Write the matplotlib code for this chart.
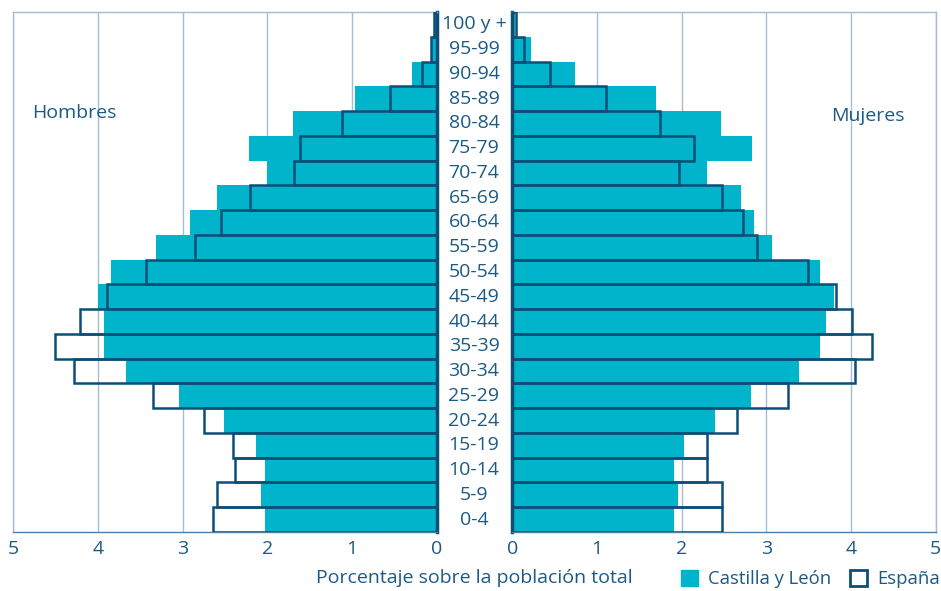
import matplotlib.pyplot as plt
import matplotlib.transforms as mtransforms
from matplotlib.patches import Patch

plt.rcParams['font.family'] = ['Open Sans', 'DejaVu Sans']

# age groups from bottom to top
edades = ['0-4', '5-9', '10-14', '15-19', '20-24', '25-29', '30-34', '35-39',
          '40-44', '45-49', '50-54', '55-59', '60-64', '65-69', '70-74',
          '75-79', '80-84', '85-89', '90-94', '95-99', '100 y +']

# porcentaje sobre la poblacion total
hombres_cyl = [2.03, 2.07, 2.03, 2.13, 2.51, 3.04, 3.67, 3.93, 3.93, 4.00, 3.85,
               3.32, 2.91, 2.59, 2.00, 2.22, 1.70, 0.96, 0.29, 0.06, 0.02]
hombres_esp = [2.64, 2.60, 2.38, 2.41, 2.75, 3.35, 4.28, 4.51, 4.21, 3.89, 3.43,
               2.85, 2.55, 2.21, 1.69, 1.62, 1.12, 0.55, 0.17, 0.07, 0.03]
mujeres_cyl = [1.91, 1.96, 1.91, 2.03, 2.39, 2.82, 3.38, 3.63, 3.71, 3.80, 3.63,
               3.07, 2.85, 2.70, 2.30, 2.83, 2.46, 1.70, 0.74, 0.22, 0.03]
mujeres_esp = [2.48, 2.48, 2.30, 2.30, 2.65, 3.26, 4.05, 4.25, 4.01, 3.82, 3.49,
               2.89, 2.73, 2.48, 1.97, 2.15, 1.74, 1.11, 0.45, 0.14, 0.04]

cyan = '#00b4cc'
oscuro = '#0b4f78'
texto = '#1b5a84'
rejilla = '#a4bdd3'

fig = plt.figure(figsize=(9.41, 5.91), dpi=100)
ax1 = fig.add_axes([0.0142, 0.0998, 0.4499, 0.8799])
ax2 = fig.add_axes([0.5444, 0.0998, 0.4500, 0.8799])

y = list(range(len(edades)))

for ax, cyl, esp in [(ax1, hombres_cyl, hombres_esp), (ax2, mujeres_cyl, mujeres_esp)]:
    ax.barh(y, cyl, height=1.0, color=cyan, zorder=2)
    ax.barh(y, esp, height=1.0, fill=False, edgecolor=oscuro, linewidth=1.8, zorder=3)
    ax.set_ylim(-0.5, len(edades) - 0.5)
    ax.set_yticks([])
    ax.set_xticks([0, 1, 2, 3, 4, 5])
    ax.xaxis.grid(True, color=rejilla, linewidth=1.0, zorder=0)
    ax.set_axisbelow(True)
    ax.tick_params(axis='x', length=0, pad=6, labelsize=14, labelcolor=texto)
    for s in ['top', 'left', 'right']:
        ax.spines[s].set_color(rejilla)
        ax.spines[s].set_linewidth(1.0)
    ax.spines['bottom'].set_color('#4f7fa5')
    ax.spines['bottom'].set_linewidth(1.0)

ax1.set_xlim(5, 0)
ax2.set_xlim(0, 5)
ax1.spines['right'].set_color(oscuro)
ax1.spines['right'].set_linewidth(2.5)
ax2.spines['left'].set_color(oscuro)
ax2.spines['left'].set_linewidth(2.5)

# etiquetas de edad entre los dos paneles
trans = mtransforms.blended_transform_factory(fig.transFigure, ax1.transData)
for i, e in enumerate(edades):
    fig.text(0.5037, i, e, transform=trans, ha='center', va='center',
             fontsize=14, color=texto)

ax1.text(0.1445, 0.806, 'Hombres', transform=ax1.transAxes, ha='center', va='center',
         fontsize=14, color=texto)
ax2.text(0.84, 0.80, 'Mujeres', transform=ax2.transAxes, ha='center', va='center',
         fontsize=14, color=texto)

fig.text(0.5037, 0.022, 'Porcentaje sobre la población total', ha='center',
         va='center', fontsize=14, color=texto)

handles = [Patch(facecolor=cyan, edgecolor=cyan),
           Patch(facecolor='white', edgecolor=oscuro, linewidth=2)]
fig.legend(handles, ['Castilla y León', 'España'], ncol=2, frameon=False,
           loc='center right', bbox_to_anchor=(1.0165, 0.02), fontsize=13.3,
           labelcolor=texto, handlelength=0.92, handleheight=0.92,
           handletextpad=0.55, columnspacing=1.0)

fig.savefig('out.png', dpi=100)
